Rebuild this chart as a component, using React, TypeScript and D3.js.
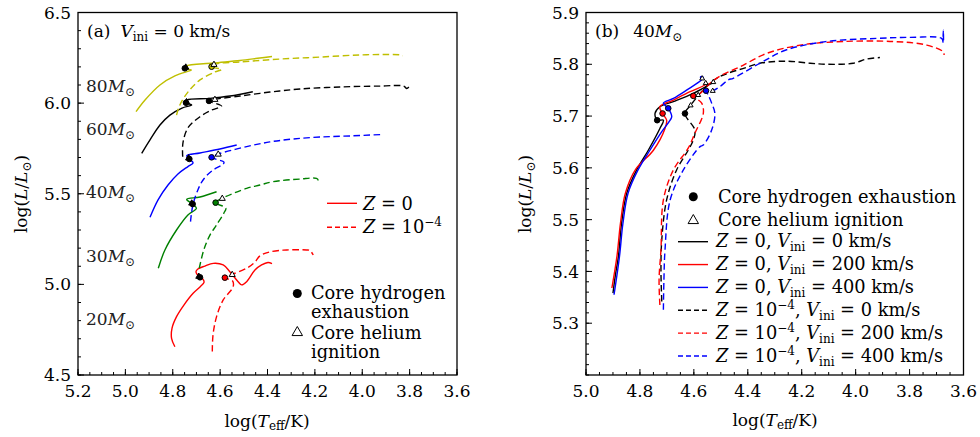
import React from "react";
import * as d3 from "d3";

type Pt = [number, number];

const FONT = "'DejaVu Serif', serif";
const FS = 17;
const FS_KEY = 17.8;

// ---------- Panel (a): non-rotating tracks, Z = 0 (solid) and Z = 1e-4 (dashed) ----------
const a80Z0: Pt[] = [[4.955,5.953],[4.917,6.017],[4.854,6.10],[4.791,6.150],[4.727,6.179],[4.721,6.183],[4.749,6.192],[4.744,6.205],[4.630,6.221],[4.516,6.235],[4.432,6.249],[4.381,6.257]];
const a80Z4: Pt[] = [[4.784,5.934],[4.770,5.990],[4.736,6.061],[4.685,6.128],[4.622,6.172],[4.594,6.186],[4.636,6.201],[4.626,6.214],[4.516,6.227],[4.348,6.243],[4.179,6.254],[4.010,6.266],[3.884,6.268],[3.841,6.266],[3.829,6.26]];
const a60Z0: Pt[] = [[4.931,5.723],[4.896,5.797],[4.854,5.879],[4.812,5.934],[4.761,5.973],[4.720,5.990],[4.744,6.002],[4.740,6.017],[4.643,6.026],[4.559,6.039],[4.462,6.063]];
const a60Z4: Pt[] = [[4.758,5.704],[4.757,5.780],[4.736,5.863],[4.685,5.925],[4.635,5.962],[4.594,5.984],[4.647,6.012],[4.622,6.021],[4.516,6.039],[4.390,6.061],[4.263,6.078],[4.095,6.089],[3.926,6.094],[3.825,6.094],[3.812,6.081],[3.795,6.103]];
const a40Z0: Pt[] = [[4.896,5.370],[4.862,5.466],[4.820,5.548],[4.778,5.609],[4.736,5.650],[4.714,5.670],[4.730,5.692],[4.741,5.710],[4.685,5.725],[4.601,5.747],[4.530,5.769]];
const a40Z4: Pt[] = [[4.725,5.346],[4.715,5.438],[4.694,5.521],[4.672,5.576],[4.635,5.626],[4.587,5.664],[4.584,5.675],[4.636,5.701],[4.608,5.719],[4.488,5.760],[4.390,5.786],[4.292,5.802],[4.179,5.813],[4.052,5.819],[3.912,5.827]];
const a30Z0: Pt[] = [[4.861,5.089],[4.833,5.190],[4.784,5.300],[4.736,5.383],[4.700,5.420],[4.716,5.443],[4.741,5.469],[4.685,5.482],[4.615,5.511]];
const a30Z4: Pt[] = [[4.688,5.089],[4.669,5.190],[4.643,5.272],[4.615,5.328],[4.584,5.394],[4.576,5.420],[4.619,5.451],[4.591,5.475],[4.488,5.530],[4.432,5.548],[4.376,5.567],[4.263,5.581],[4.193,5.585],[4.187,5.576],[4.200,5.567]];
const a20Z0: Pt[] = [[4.791,4.656],[4.805,4.702],[4.803,4.759],[4.784,4.822],[4.753,4.886],[4.714,4.951],[4.685,4.986],[4.668,5.011],[4.673,5.030],[4.685,5.039],[4.702,5.070],[4.694,5.085],[4.664,5.101],[4.629,5.116],[4.587,5.107],[4.559,5.070],[4.524,5.015],[4.509,4.997],[4.488,5.015],[4.453,5.079],[4.425,5.107],[4.398,5.121],[4.381,5.115]];
const a20Z4: Pt[] = [[4.633,4.629],[4.630,4.721],[4.615,4.822],[4.587,4.914],[4.545,4.987],[4.548,5.020],[4.580,5.037],[4.549,5.055],[4.488,5.089],[4.453,5.123],[4.432,5.157],[4.390,5.179],[4.319,5.190],[4.235,5.190],[4.221,5.187],[4.207,5.162]];

const massesA = ["80", "60", "40", "30", "20"];
const colorsA = ["#bfbf00", "#000000", "#0000ff", "#008000", "#ff0000"];
const tracksZ0A = [a80Z0, a60Z0, a40Z0, a30Z0, a20Z0];
const tracksZ4A = [a80Z4, a60Z4, a40Z4, a30Z4, a20Z4];
// core hydrogen exhaustion / core helium ignition, per mass
const hExhZ0A: Pt[] = [[4.749,6.192],[4.744,6.002],[4.730,5.692],[4.716,5.443],[4.685,5.039]];
const hExhZ4A: Pt[] = [[4.636,6.201],[4.647,6.012],[4.636,5.701],[4.619,5.451],[4.580,5.037]];
const heIgnZ0A: Pt[] = [[4.745,6.199],[4.742,6.008],[4.733,5.698],[4.720,5.449],[4.690,5.045]];
const heIgnZ4A: Pt[] = [[4.626,6.214],[4.622,6.021],[4.608,5.719],[4.591,5.475],[4.549,5.055]];
// mass label anchors (logT, logL)
const massLabelPos: Pt[] = [[5.166,6.063],[5.166,5.824],[5.166,5.477],[5.166,5.125],[5.166,4.776]];

const xTicksA = [5.2, 5.0, 4.8, 4.6, 4.4, 4.2, 4.0, 3.8, 3.6];
const yTicksA = [4.5, 5.0, 5.5, 6.0, 6.5];

// ---------- Panel (b): 40 Msun, three initial rotation rates ----------
const bZ0V0: Pt[] = [[4.900,5.358],[4.891,5.393],[4.880,5.428],[4.868,5.493],[4.849,5.551],[4.812,5.596],[4.769,5.634],[4.726,5.676],[4.713,5.692],[4.736,5.692],[4.744,5.705],[4.726,5.718],[4.676,5.728],[4.602,5.744],[4.534,5.763],[4.522,5.766]];
const bZ0V200: Pt[] = [[4.904,5.368],[4.885,5.430],[4.872,5.494],[4.854,5.551],[4.816,5.597],[4.750,5.634],[4.707,5.676],[4.701,5.692],[4.716,5.705],[4.726,5.718],[4.676,5.731],[4.614,5.747],[4.559,5.760],[4.553,5.763]];
const bZ0V400: Pt[] = [[4.896,5.355],[4.876,5.428],[4.863,5.493],[4.844,5.551],[4.807,5.596],[4.763,5.634],[4.719,5.670],[4.688,5.692],[4.682,5.699],[4.695,5.715],[4.713,5.725],[4.676,5.734],[4.627,5.750],[4.571,5.770],[4.565,5.775],[4.575,5.776],[4.573,5.770]];
const bZ4V0: Pt[] = [[4.719,5.342],[4.722,5.403],[4.719,5.461],[4.701,5.538],[4.664,5.596],[4.621,5.634],[4.602,5.654],[4.596,5.673],[4.633,5.705],[4.612,5.721],[4.554,5.757],[4.515,5.773],[4.472,5.783],[4.410,5.793],[4.355,5.802],[4.256,5.806],[4.169,5.802],[4.107,5.800],[4.009,5.802],[3.960,5.810],[3.910,5.813]];
const bZ4V200: Pt[] = [[4.726,5.335],[4.729,5.384],[4.722,5.442],[4.713,5.538],[4.676,5.596],[4.621,5.638],[4.596,5.667],[4.565,5.705],[4.571,5.725],[4.602,5.739],[4.584,5.741],[4.534,5.766],[4.497,5.779],[4.429,5.795],[4.330,5.821],[4.206,5.837],[4.046,5.844],[3.860,5.844],[3.736,5.837],[3.675,5.824],[3.672,5.818]];
const bZ4V400: Pt[] = [[4.713,5.326],[4.711,5.384],[4.707,5.441],[4.688,5.538],[4.639,5.596],[4.577,5.641],[4.565,5.644],[4.534,5.673],[4.522,5.705],[4.534,5.725],[4.547,5.741],[4.555,5.749],[4.530,5.749],[4.503,5.757],[4.472,5.770],[4.454,5.773],[4.355,5.802],[4.256,5.828],[4.107,5.844],[3.922,5.850],[3.798,5.852],[3.681,5.850],[3.675,5.841],[3.675,5.866],[3.676,5.845]];

const rotRates = ["0", "200", "400"];
const colorsB = ["#000000", "#ff0000", "#0000ff"];
const tracksZ0B = [bZ0V0, bZ0V200, bZ0V400];
const tracksZ4B = [bZ4V0, bZ4V200, bZ4V400];
const hExhZ0B: Pt[] = [[4.736,5.692],[4.716,5.705],[4.695,5.715]];
const hExhZ4B: Pt[] = [[4.633,5.705],[4.602,5.739],[4.555,5.749]];
const heIgnZ0B: Pt[] = [[4.528,5.766],[4.556,5.764],[4.569,5.773]];
const heIgnZ4B: Pt[] = [[4.612,5.721],[4.584,5.741],[4.530,5.749]];

const xTicksB = [5.0, 4.8, 4.6, 4.4, 4.2, 4.0, 3.8, 3.6];
const yTicksB = [5.3, 5.4, 5.5, 5.6, 5.7, 5.8, 5.9];

// ---------- geometry ----------
const boxA = { l: 78, r: 457, t: 12.5, b: 375 };
const boxB = { l: 586, r: 963.5, t: 12.5, b: 375 };

const xA = d3.scaleLinear().domain([5.2, 3.6]).range([boxA.l, boxA.r]);
const yA = d3.scaleLinear().domain([4.5, 6.5]).range([boxA.b, boxA.t]);
const xB = d3.scaleLinear().domain([5.0, 3.6]).range([boxB.l, boxB.r]);
const yB = d3.scaleLinear().domain([5.2, 5.9]).range([boxB.b, boxB.t]);

const DASH = "6.5,3.5";
const LW = 1.4;

function minorTicks(lo: number, hi: number, step: number): number[] {
  const n = Math.round((hi - lo) / step);
  return d3.range(n + 1).map((i) => +(lo + i * step).toFixed(4));
}

function Frame({ box, x, y, xMajor, yMajor, xMinor, yMinor }: any) {
  return (
    <g>
      <rect x={box.l} y={box.t} width={box.r - box.l} height={box.b - box.t} fill="none" stroke="#000" strokeWidth={1.3} />
      {xMinor.map((v: number, i: number) => (
        <line key={"xm" + i} x1={x(v)} x2={x(v)} y1={box.b} y2={box.b - 3} stroke="#000" strokeWidth={1} />
      ))}
      {yMinor.map((v: number, i: number) => (
        <line key={"ym" + i} x1={box.l} x2={box.l + 3} y1={y(v)} y2={y(v)} stroke="#000" strokeWidth={1} />
      ))}
      {xMajor.map((v: number, i: number) => (
        <g key={"xM" + i}>
          <line x1={x(v)} x2={x(v)} y1={box.b} y2={box.b - 6} stroke="#000" strokeWidth={1} />
          <text x={x(v)} y={box.b + 22} textAnchor="middle" fontSize={FS} fontFamily={FONT}>{v.toFixed(1)}</text>
        </g>
      ))}
      {yMajor.map((v: number, i: number) => (
        <g key={"yM" + i}>
          <line x1={box.l} x2={box.l + 6} y1={y(v)} y2={y(v)} stroke="#000" strokeWidth={1} />
          <text x={box.l - 7} y={y(v)} dy="0.36em" textAnchor="end" fontSize={FS} fontFamily={FONT}>{v.toFixed(1)}</text>
        </g>
      ))}
    </g>
  );
}

function Dot({ cx, cy, r = 2.8, fill = "#000" }: any) {
  return <circle cx={cx} cy={cy} r={r} fill={fill} stroke="#000" strokeWidth={1} />;
}

function Tri({ cx, cy, s = 3.2, fill = "#fff", sw = 1 }: any) {
  const p = `M${cx},${cy - s} L${cx + s * 0.95},${cy + s * 0.65} L${cx - s * 0.95},${cy + s * 0.65} Z`;
  return <path d={p} fill={fill} stroke="#000" strokeWidth={sw} />;
}

function XLabel({ cx, y }: any) {
  return (
    <text x={cx} y={y} textAnchor="middle" fontSize={FS} fontFamily={FONT}>
      log(<tspan fontStyle="italic">T</tspan>
      <tspan fontSize={12} dy={3}>eff</tspan>
      <tspan dy={-3}>/K)</tspan>
    </text>
  );
}

function YLabel({ x, cy }: any) {
  return (
    <text transform={`translate(${x},${cy}) rotate(-90)`} textAnchor="middle" fontSize={FS} fontFamily={FONT}>
      log(<tspan fontStyle="italic">L</tspan>/<tspan fontStyle="italic">L</tspan>
      <tspan fontSize={12} dy={4}>⊙</tspan>
      <tspan dy={-4}>)</tspan>
    </text>
  );
}

export default function App() {
  const lineA = d3.line<Pt>().x((d) => xA(d[0])).y((d) => yA(d[1])).curve(d3.curveCatmullRom.alpha(0.5));
  const lineB = d3.line<Pt>().x((d) => xB(d[0])).y((d) => yB(d[1])).curve(d3.curveCatmullRom.alpha(0.5));

  return (
    <svg width={980} height={437} style={{ position: "absolute", left: 0, top: 0, background: "#fff" }} fontFamily={FONT}>
      <rect width={980} height={437} fill="#fff" />

      {/* ================= panel (a) ================= */}
      <g>
        {tracksZ0A.map((t, i) => (
          <path key={"az0" + i} d={lineA(t) || ""} fill="none" stroke={colorsA[i]} strokeWidth={LW} />
        ))}
        {tracksZ4A.map((t, i) => (
          <path key={"az4" + i} d={lineA(t) || ""} fill="none" stroke={colorsA[i]} strokeWidth={LW} strokeDasharray={DASH} />
        ))}
        {heIgnZ0A.map((p, i) => <Tri key={"atz0" + i} cx={xA(p[0])} cy={yA(p[1])} fill="#000" />)}
        {hExhZ0A.map((p, i) => <Dot key={"adz0" + i} cx={xA(p[0])} cy={yA(p[1])} />)}
        {hExhZ4A.map((p, i) => <Dot key={"adz4" + i} cx={xA(p[0])} cy={yA(p[1])} fill={colorsA[i]} />)}
        {heIgnZ4A.map((p, i) => <Tri key={"atz4" + i} cx={xA(p[0])} cy={yA(p[1])} />)}

        {massesA.map((m, i) => (
          <text key={"ml" + i} x={xA(massLabelPos[i][0])} y={yA(massLabelPos[i][1])} fontSize={FS} fill="#222">
            {m}<tspan fontStyle="italic">M</tspan><tspan fontSize={12} dy={4}>⊙</tspan>
          </text>
        ))}

        <text x={87} y={37} fontSize={FS}>
          (a)<tspan dx={10} fontStyle="italic">V</tspan>
          <tspan fontSize={12} dy={4}>ini</tspan>
          <tspan dy={-4}> = 0 km/s</tspan>
        </text>

        {/* metallicity key */}
        <line x1={327} x2={357} y1={203.3} y2={203.3} stroke="#ff0000" strokeWidth={LW} />
        <text x={363} y={210} fontSize={FS_KEY}><tspan fontStyle="italic">Z</tspan> = 0</text>
        <line x1={327} x2={357} y1={227.3} y2={227.3} stroke="#ff0000" strokeWidth={LW} strokeDasharray="5,3" />
        <text x={363} y={233} fontSize={FS_KEY}>
          <tspan fontStyle="italic">Z</tspan> = 10<tspan fontSize={12} dy={-7}>−4</tspan>
        </text>

        {/* marker key */}
        <circle cx={297.3} cy={293.5} r={4.5} fill="#000" />
        <text x={311} y={299} fontSize={FS_KEY}>Core hydrogen</text>
        <text x={311} y={318} fontSize={FS_KEY}>exhaustion</text>
        <Tri cx={297.3} cy={332} s={5.5} sw={1} />
        <text x={311} y={339} fontSize={FS_KEY}>Core helium</text>
        <text x={311} y={358} fontSize={FS_KEY}>ignition</text>

        <Frame box={boxA} x={xA} y={yA} xMajor={xTicksA} yMajor={yTicksA}
          xMinor={minorTicks(3.6, 5.2, 0.05)} yMinor={minorTicks(4.5, 6.5, 0.1)} />
        <XLabel cx={267} y={427} />
        <YLabel x={27} cy={194} />
      </g>

      {/* ================= panel (b) ================= */}
      <g>
        {tracksZ0B.map((t, i) => (
          <path key={"bz0" + i} d={lineB(t) || ""} fill="none" stroke={colorsB[i]} strokeWidth={LW} />
        ))}
        {tracksZ4B.map((t, i) => (
          <path key={"bz4" + i} d={lineB(t) || ""} fill="none" stroke={colorsB[i]} strokeWidth={LW} strokeDasharray={DASH} />
        ))}
        {heIgnZ0B.map((p, i) => <Tri key={"btz0" + i} cx={xB(p[0])} cy={yB(p[1])} s={2.6} />)}
        {hExhZ0B.map((p, i) => <Dot key={"bdz0" + i} cx={xB(p[0])} cy={yB(p[1])} fill={colorsB[i]} />)}
        {hExhZ4B.map((p, i) => <Dot key={"bdz4" + i} cx={xB(p[0])} cy={yB(p[1])} fill={colorsB[i]} />)}
        {heIgnZ4B.map((p, i) => <Tri key={"btz4" + i} cx={xB(p[0])} cy={yB(p[1])} s={2.6} />)}

        <text x={595} y={37} fontSize={FS}>
          (b)<tspan dx={14}>40</tspan><tspan fontStyle="italic">M</tspan>
          <tspan fontSize={12} dy={4}>⊙</tspan>
        </text>

        <circle cx={693.3} cy={196.7} r={4.5} fill="#000" />
        <text x={718} y={202.5} fontSize={FS_KEY}>Core hydrogen exhaustion</text>
        <Tri cx={693.3} cy={220} s={5.5} sw={1} />
        <text x={718} y={225.5} fontSize={FS_KEY}>Core helium ignition</text>

        {[0, 1].map((zi) =>
          rotRates.map((v, vi) => {
            const ly = 241.7 + (zi * 3 + vi) * 22.86;
            return (
              <g key={"lg" + zi + vi}>
                <line x1={678} x2={708} y1={ly} y2={ly} stroke={colorsB[vi]} strokeWidth={LW}
                  strokeDasharray={zi === 1 ? "5,3" : undefined} />
                <text x={716} y={ly + 5.5} fontSize={FS_KEY}>
                  <tspan fontStyle="italic">Z</tspan>
                  {zi === 0 ? (
                    <tspan> = 0, </tspan>
                  ) : (
                    <>
                      <tspan> = 10</tspan>
                      <tspan fontSize={12} dy={-7}>−4</tspan>
                      <tspan dy={7}>, </tspan>
                    </>
                  )}
                  <tspan fontStyle="italic">V</tspan>
                  <tspan fontSize={12} dy={4}>ini</tspan>
                  <tspan dy={-4}> = {v} km/s</tspan>
                </text>
              </g>
            );
          })
        )}

        <Frame box={boxB} x={xB} y={yB} xMajor={xTicksB} yMajor={yTicksB}
          xMinor={minorTicks(3.6, 5.0, 0.05)} yMinor={minorTicks(5.2, 5.9, 0.02)} />
        <XLabel cx={775} y={426} />
        <YLabel x={531} cy={194} />
      </g>
    </svg>
  );
}
